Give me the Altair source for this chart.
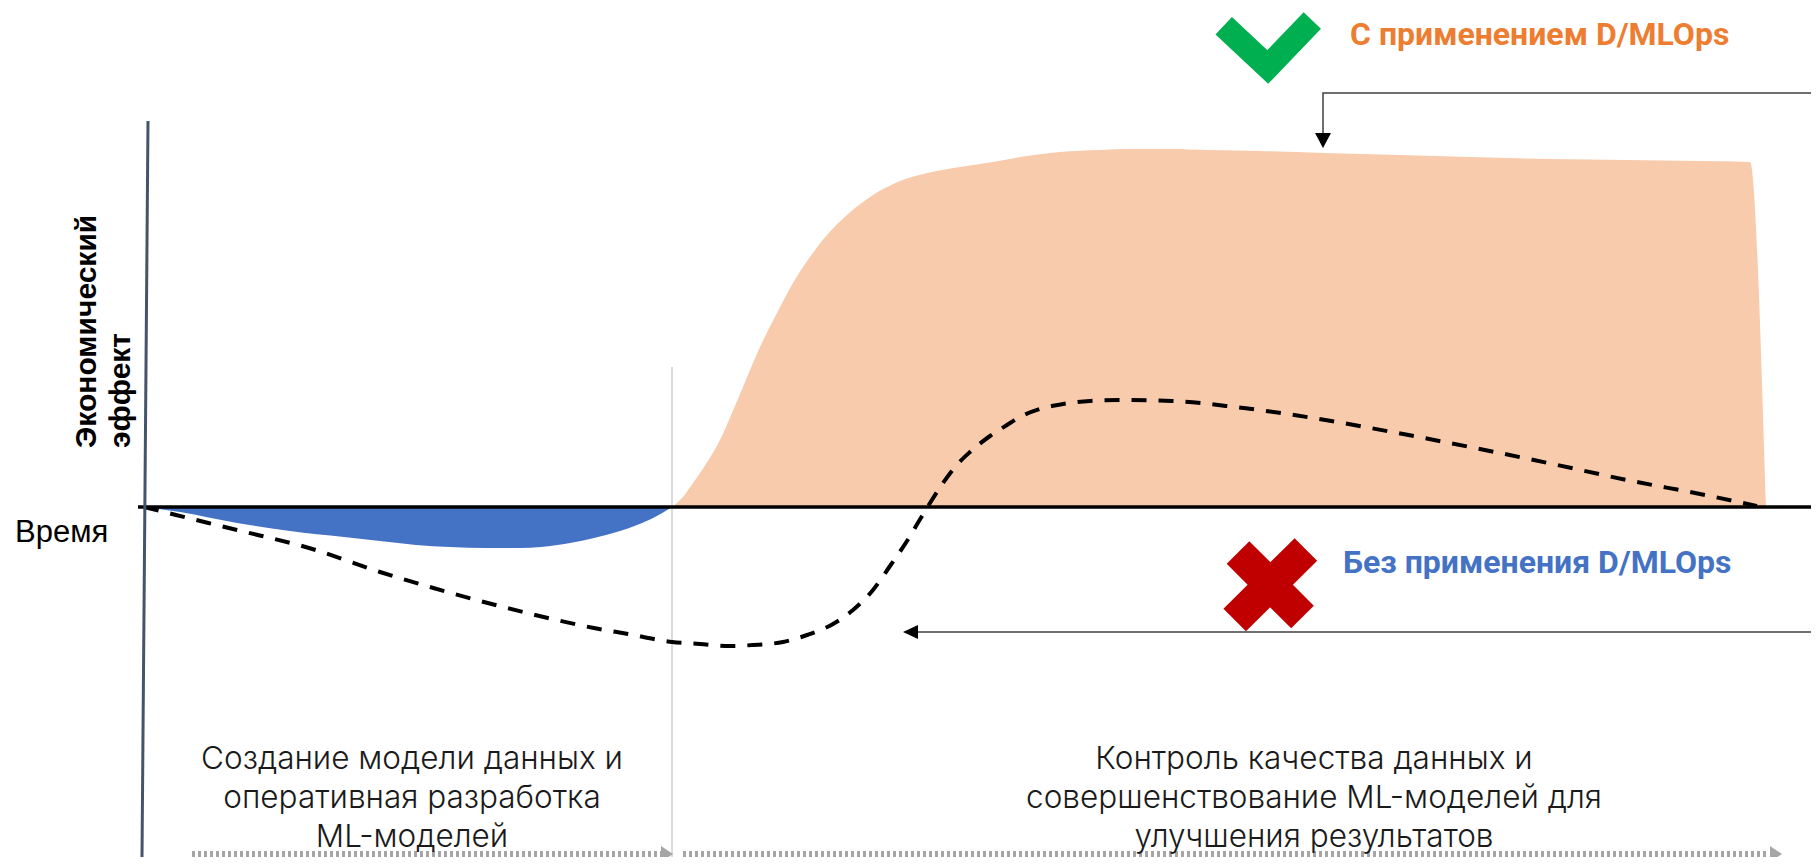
import altair as alt
import pandas as pd

# ---------------- data ----------------
# x = time position, y = economic effect (0 = the time axis)

# "С применением D/MLOps" - filled effect curve
orange_x = [672, 682, 693, 706, 720, 732, 743, 760, 777, 793, 810, 827, 847, 873, 900, 927,
            960, 993, 1027, 1060, 1100, 1130, 1170, 1209, 1260, 1324, 1400, 1470, 1550, 1627,
            1700, 1750, 1766]
orange_y = [0, 9, 24, 43, 67, 94, 120, 160, 194, 224, 250, 272, 292, 312, 326, 334,
            340, 345, 351, 355, 357, 358, 358, 357, 356, 354, 352, 350, 348, 347,
            346, 345, 0]

# initial investment (negative effect)
blue_x = [144, 180, 237, 290, 344, 380, 416, 450, 487, 520, 541, 570, 594, 620, 637, 655, 672]
blue_y = [0, -5, -16, -24, -30, -34, -38, -40, -41, -41, -40, -36, -31, -24, -18, -10, 0]

# "Без применения D/MLOps" - dashed curve
dash_x = [144, 176, 237, 309, 380, 451, 523, 594, 628, 672, 700, 730, 753, 783, 807, 833,
          853, 873, 890, 907, 922, 930, 943, 955, 970, 990, 1007, 1020, 1040, 1063, 1090,
          1120, 1172, 1235, 1313, 1392, 1470, 1548, 1627, 1705, 1757]
dash_y = [0, -8, -23, -41, -65, -86, -105, -121, -127, -135, -137, -139, -138, -135, -128, -117,
          -103, -83, -59, -34, -9, 4, 24, 40, 55, 71, 82, 90, 98, 103, 106,
          107, 106, 100, 89, 75, 60, 44, 27, 12, 1]

# axes
vaxis_x = [148, 142]
vaxis_y = [386, -350]
time_axis_x = [138, 1811]
time_axis_y = [0, 0]
split_x = [672, 672]
split_y = [140, -350]

# callout arrows
top_arrow_x = [1811, 1323, 1323]
top_arrow_y = [414, 414, 373]
top_head = (1323, 366.5)
low_arrow_x = [1811, 915]
low_arrow_y = [-125, -125]
low_head = (910.5, -125)

# icons
check_x = [1223.7, 1267.7, 1312.3]
check_y = [481.2, 440, 486.5]
cross_id = ["a", "a", "b", "b"]
cross_x = [1238, 1302.5, 1305.9, 1234.7]
cross_y = [-45.5, -110, -42.5, -113]

# phase arrows at the bottom
phase_id = ["p1", "p1", "p2", "p2"]
phase_x = [192, 661, 683, 1769]
phase_y = [-347, -347, -347, -347]
phase_head_x = [667, 1776]
phase_head_y = [-347, -347]

# texts
legend_texts = ["С применением D/MLOps", "Без применения D/MLOps"]
legend_x = [1350, 1343]
legend_y = [462, -66]
ytitle_lines = ["Экономический", "эффект"]
ytitle_x = [96, 130]
ytitle_y = [59, 59]
xtitle = "Время"
xtitle_pos = (15, -35)
phase1_lines = ["Создание модели данных и", "оперативная разработка", "ML-моделей"]
phase2_lines = ["Контроль качества данных и", "совершенствование ML-моделей для", "улучшения результатов"]
phase_text_y = [-262, -301, -340]
phase1_cx = 412
phase2_cx = 1314

# ---------------- chart ----------------
XS = alt.Scale(domain=[8, 1811], nice=False, zero=False)
YS = alt.Scale(domain=[-350, 499], nice=False, zero=False)


def ex(f="x"):
    return alt.X(f"{f}:Q", scale=XS, axis=None)


def ey(f="y"):
    return alt.Y(f"{f}:Q", scale=YS, axis=None, stack=False)


def df(**cols):
    return pd.DataFrame(cols)


orange = alt.Chart(df(x=orange_x, y=orange_y, y0=[0] * len(orange_x))).mark_area(
    color="#F8CBAD", interpolate="monotone", opacity=1
).encode(x=ex(), y=ey(), y2="y0:Q")

blue = alt.Chart(df(x=blue_x, y=blue_y, y0=[0] * len(blue_x))).mark_area(
    color="#4472C4", interpolate="monotone", opacity=1
).encode(x=ex(), y=ey(), y2="y0:Q")

split = alt.Chart(df(x=split_x, y=split_y, o=[0, 1])).mark_line(
    color="#D0D0D0", strokeWidth=1.5
).encode(x=ex(), y=ey(), order="o:Q")

time_axis = alt.Chart(df(x=time_axis_x, y=time_axis_y)).mark_line(
    color="#000000", strokeWidth=3.5
).encode(x=ex(), y=ey())

dashed = alt.Chart(df(x=dash_x, y=dash_y)).mark_line(
    color="#000000", strokeWidth=4, strokeDash=[15, 12], interpolate="monotone"
).encode(x=ex(), y=ey())

vaxis = alt.Chart(df(x=vaxis_x, y=vaxis_y, o=[0, 1])).mark_line(
    color="#44546A", strokeWidth=3
).encode(x=ex(), y=ey(), order="o:Q")

top_arrow = alt.Chart(df(x=top_arrow_x, y=top_arrow_y, o=[0, 1, 2])).mark_line(
    color="#404040", strokeWidth=1.5
).encode(x=ex(), y=ey(), order="o:Q")

top_arrow_head = alt.Chart(df(x=[top_head[0]], y=[top_head[1]])).mark_point(
    shape="M 0 0.94 L -1 -0.94 L 1 -0.94 Z", size=256, filled=True, color="#000000",
    opacity=1, strokeWidth=0
).encode(x=ex(), y=ey())

low_arrow = alt.Chart(df(x=low_arrow_x, y=low_arrow_y)).mark_line(
    color="#404040", strokeWidth=1.5
).encode(x=ex(), y=ey())

low_arrow_head = alt.Chart(df(x=[low_head[0]], y=[low_head[1]])).mark_point(
    shape="M -1 0 L 1 -0.93 L 1 0.93 Z", size=225, filled=True, color="#000000",
    opacity=1, strokeWidth=0
).encode(x=ex(), y=ey())

check = alt.Chart(df(x=check_x, y=check_y, o=[0, 1, 2])).mark_line(
    color="#00B050", strokeWidth=24, strokeCap="butt", strokeJoin="miter"
).encode(x=ex(), y=ey(), order="o:Q")

cross = alt.Chart(df(g=cross_id, x=cross_x, y=cross_y, o=[0, 1, 0, 1])).mark_line(
    color="#C00000", strokeWidth=32, strokeCap="butt"
).encode(x=ex(), y=ey(), detail="g:N", order="o:Q")

phase_lines = alt.Chart(df(g=phase_id, x=phase_x, y=phase_y)).mark_line(
    color="#A6A6A6", strokeWidth=6, strokeDash=[3, 3], strokeCap="butt"
).encode(x=ex(), y=ey(), detail="g:N")

phase_heads = alt.Chart(df(x=phase_head_x, y=phase_head_y)).mark_point(
    shape="M 1 0 L -1 -1.33 L -1 1.33 Z", size=144, filled=True, color="#A6A6A6",
    opacity=1, strokeWidth=0
).encode(x=ex(), y=ey())

legend_green = alt.Chart(df(x=[legend_x[0]], y=[legend_y[0]], t=[legend_texts[0]])).mark_text(
    align="left", baseline="alphabetic", font="Roboto", fontSize=32, fontWeight="bold",
    color="#ED7D31"
).encode(x=ex(), y=ey(), text="t:N")

legend_red = alt.Chart(df(x=[legend_x[1]], y=[legend_y[1]], t=[legend_texts[1]])).mark_text(
    align="left", baseline="alphabetic", font="Roboto", fontSize=32, fontWeight="bold",
    color="#4472C4"
).encode(x=ex(), y=ey(), text="t:N")

ytitle = alt.Chart(df(x=ytitle_x, y=ytitle_y, t=ytitle_lines)).mark_text(
    align="left", baseline="alphabetic", angle=270, font="Liberation Sans", fontSize=30,
    fontWeight="bold", color="#000000"
).encode(x=ex(), y=ey(), text="t:N")

xtitle_mark = alt.Chart(df(x=[xtitle_pos[0]], y=[xtitle_pos[1]], t=[xtitle])).mark_text(
    align="left", baseline="alphabetic", font="Liberation Sans", fontSize=31, color="#000000"
).encode(x=ex(), y=ey(), text="t:N")

phase_text_df = df(
    x=[phase1_cx] * 3 + [phase2_cx] * 3,
    y=phase_text_y + phase_text_y,
    t=phase1_lines + phase2_lines,
)
phase_text = alt.Chart(phase_text_df).mark_text(
    align="center", baseline="alphabetic", font="Inter", fontSize=31.5, fontWeight=300,
    color="#1A1A1A"
).encode(x=ex(), y=ey(), text="t:N")

chart = alt.layer(
    orange, blue, split, time_axis, dashed, vaxis,
    top_arrow, top_arrow_head, low_arrow, low_arrow_head,
    check, cross, phase_lines, phase_heads,
    legend_green, legend_red, ytitle, xtitle_mark, phase_text,
).properties(
    width=1803, height=849, padding=0, background="#FFFFFF",
    autosize=alt.AutoSizeParams(type="none"),
).configure_view(stroke=None, strokeWidth=0)

chart.save("out.html", embed_options={"renderer": "svg", "actions": False})
